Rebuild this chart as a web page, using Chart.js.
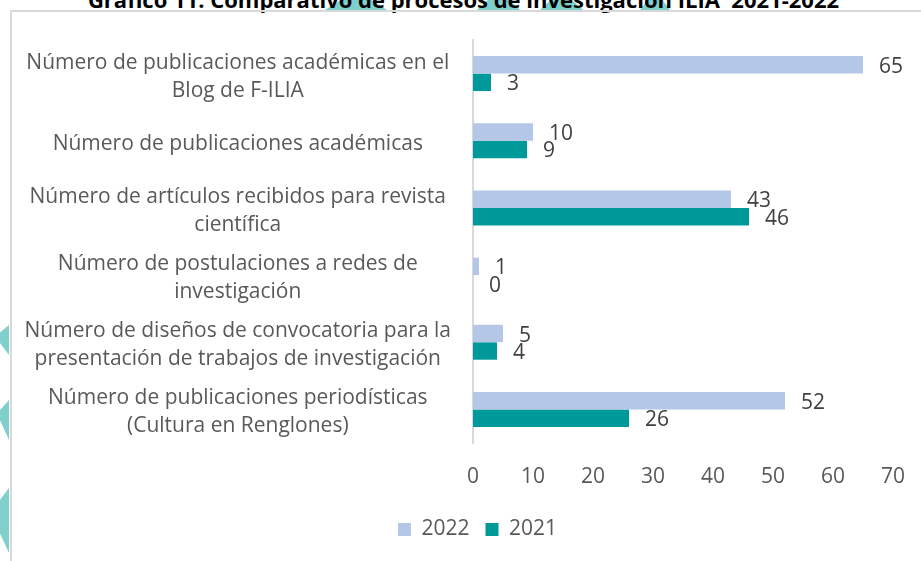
<!DOCTYPE html>
<html lang="es">
<head>
<meta charset="utf-8">
<title>Gráfico 11</title>
<script src="https://cdn.jsdelivr.net/npm/chart.js@4"></script>
<style>
body {margin: 0; background: #fff; font-family: "Open Sans", sans-serif;}
#lienzo {position: relative; width: 921px; height: 561px; overflow: hidden;}
.deco {position: absolute; background: #7fcfcc;}
#titulo {position: absolute; left: 0; width: 927px; top: -12px; text-align: center; font: bold 22px/22px "Open Sans", sans-serif; color: #000; white-space: pre;}
#marco {position: absolute; left: 10px; top: 10px; width: 940px; height: 580px; border: 1px solid #d9d9d9; border-width: 2px 0 0 2px; box-sizing: border-box;}
#myChart {position: absolute; left: 0; top: 0;}
</style>
</head>
<body>
<div id="lienzo">
	<div class="deco" style="left:325px; top:0; width:62px; height:10px; clip-path: polygon(25% 0,75% 0,100% 100%,0 100%);"></div>
	<div class="deco" style="left:477px; top:0; width:43px; height:10px; clip-path: polygon(25% 0,75% 0,100% 100%,0 100%);"></div>
	<div class="deco" style="left:540px; top:0; width:43px; height:10px; clip-path: polygon(25% 0,75% 0,100% 100%,0 100%);"></div>
	<div class="deco" style="left:640px; top:0; width:30px; height:10px; clip-path: polygon(25% 0,75% 0,100% 100%,0 100%);"></div>
	<div class="deco" style="left:0; top:325px; width:9px; height:30px; clip-path: polygon(100% 0,0 25%,0 60%,100% 100%);"></div>
	<div class="deco" style="left:0; top:400px; width:9px; height:40px; clip-path: polygon(100% 0,0 25%,0 50%,100% 100%);"></div>
	<div class="deco" style="left:0; top:488px; width:9px; height:65px; clip-path: polygon(100% 0,0 18%,0 70%,100% 100%);"></div>
	<div id="titulo">Gráfico 11. Comparativo de procesos de investigación ILIA  2021-2022</div>
	<div id="marco"></div>
	<canvas id="myChart" width="921" height="561"></canvas>
</div>
<script>
// datos
const categorias = [
	['Número de publicaciones académicas en el', 'Blog de F-ILIA'],
	'Número de publicaciones académicas',
	['Número de artículos recibidos para revista', 'científica'],
	['Número de postulaciones a redes de', 'investigación'],
	['Número de diseños de convocatoria para la', 'presentación de trabajos de investigación'],
	['Número de publicaciones periodísticas', '(Cultura en Renglones)']
];
const valores2022 = [65, 10, 43, 1, 5, 52];
const valores2021 = [3, 9, 46, 0, 4, 26];
const ticksX = [0, 10, 20, 30, 40, 50, 60, 70];

const gris = '#595959';
const fuente = 'Open Sans';

// etiquetas de valor a la derecha de cada barra
const etiquetas = {
	id: 'etiquetas',
	afterDatasetsDraw(chart) {
		const ctx = chart.ctx;
		ctx.save();
		ctx.font = '21px "Open Sans"';
		ctx.fillStyle = '#404040';
		ctx.textAlign = 'left';
		ctx.textBaseline = 'middle';
		chart.data.datasets.forEach(function (ds, i) {
			chart.getDatasetMeta(i).data.forEach(function (barra, j) {
				ctx.fillText(ds.data[j], barra.x + 16, barra.y + 2);
			});
		});
		ctx.restore();
	}
};

// la leyenda del original esta centrada en el marco, no en el canvas
const moverLeyenda = {
	id: 'moverLeyenda',
	afterLayout(chart) {
		chart.legend.left += 26;
		chart.legend.right += 26;
	}
};

const ctx = document.getElementById('myChart').getContext('2d');
const myChart = new Chart(ctx, {
	type: 'bar',
	data: {
		labels: categorias,
		datasets: [
			{label: '2022', data: valores2022, backgroundColor: '#b4c7e7'},
			{label: '2021', data: valores2021, backgroundColor: '#009999'}
		]
	},
	plugins: [etiquetas, moverLeyenda],
	options: {
		indexAxis: 'y',
		responsive: false,
		animation: false,
		categoryPercentage: 0.52,
		barPercentage: 1,
		layout: {padding: {top: 40, right: 28, bottom: 11, left: 10}},
		plugins: {
			tooltip: {enabled: false},
			legend: {
				position: 'bottom',
				labels: {
					boxWidth: 13, boxHeight: 13, padding: 16,
					color: gris,
					font: {family: fuente, size: 21}
				}
			}
		},
		scales: {
			x: {
				min: 0, max: 70,
				afterBuildTicks: function (axis) { axis.ticks = ticksX.map(function (v) { return {value: v}; }); },
				afterFit: function (axis) { axis.height = 60; axis.paddingLeft = 0; axis.paddingRight = 0; },
				grid: {display: false, drawTicks: false},
				border: {display: false},
				ticks: {color: gris, font: {family: fuente, size: 21}, padding: 21}
			},
			y: {
				afterFit: function (axis) { axis.width = 463; axis.paddingTop = 0; axis.paddingBottom = 0; },
				grid: {display: false, drawTicks: false},
				border: {display: true, color: '#d9d9d9', width: 2},
				ticks: {color: gris, crossAlign: 'center', padding: 22, labelOffset: 3, font: {family: fuente, size: 21, lineHeight: '28px'}}
			}
		}
	}
});
</script>
</body>
</html>
